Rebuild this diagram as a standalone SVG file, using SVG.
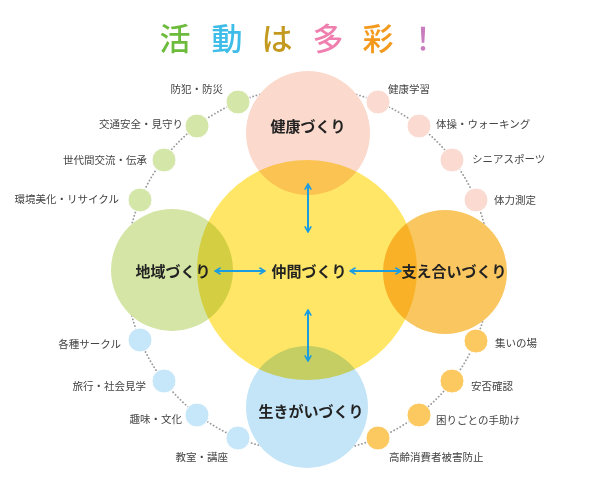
<svg xmlns="http://www.w3.org/2000/svg" width="600" height="484" viewBox="0 0 600 484">
<defs>
<style>
.ttl{font-family:"Noto Sans CJK JP","Noto Sans",sans-serif;font-size:31px;font-weight:500;text-anchor:middle;dominant-baseline:central}
.big{font-family:"Noto Sans CJK JP","Noto Sans",sans-serif;font-size:15px;font-weight:700;fill:#222;text-anchor:middle;dominant-baseline:central}
.sm{font-family:"Noto Sans CJK JP","Noto Sans",sans-serif;font-size:10.5px;fill:#444;dominant-baseline:central}
.r{text-anchor:end}
.under{fill:#fff}
.bc{mix-blend-mode:multiply}
.dot{fill:none;stroke:#999;stroke-width:1.8;stroke-dasharray:0.1 3.4;stroke-linecap:round}
.arr{stroke:#1a9ce0;stroke-width:2;fill:none;marker-start:url(#ah);marker-end:url(#ah)}
.g{fill:#d5e6a9}.p{fill:#fbdbd1}.b{fill:#c6e6f9}.o{fill:#fbc95f}
.sc{stroke:#fff;stroke-width:1}
</style>
<marker id="ah" viewBox="0 0 10 10" refX="9" refY="5" markerWidth="4" markerHeight="4" orient="auto-start-reverse" markerUnits="strokeWidth">
<path d="M2,1 L9,5 L2,9" fill="none" stroke="#1a9ce0" stroke-width="2"/>
</marker>
</defs>
<rect width="600" height="484" fill="#fff"/>
<g id="title">
<text class="ttl" x="175" y="36" fill="#6cbb3c">活</text>
<text class="ttl" x="227" y="36" fill="#3dbde8">動</text>
<text class="ttl" x="277" y="36" fill="#c39a1f">は</text>
<text class="ttl" x="328" y="36" fill="#ef7fae">多</text>
<text class="ttl" x="378" y="36" fill="#f39a1e">彩</text>
<text class="ttl" x="423" y="36" fill="#c77dc0">！</text>
</g>
<g id="ring">
<circle class="dot" cx="308" cy="270" r="182"/>
</g>
<g id="underlays">
<circle class="under" cx="308" cy="133" r="62"/>
<circle class="under" cx="172" cy="270" r="61"/>
<circle class="under" cx="445" cy="272" r="62"/>
<circle class="under" cx="307" cy="407" r="61"/>
<circle class="under" cx="307" cy="270" r="110"/>
</g>
<g id="center-node"><circle class="bc" cx="307" cy="270" r="110" fill="#ffe666"/></g>
<g id="health-node"><circle class="bc" cx="308" cy="133" r="62" fill="#fbd9cd"/></g>
<g id="region-node"><circle class="bc" cx="172" cy="270" r="61" fill="#d4e5a6"/></g>
<g id="support-node"><circle class="bc" cx="445" cy="272" r="62" fill="#f9c660"/></g>
<g id="purpose-node"><circle class="bc" cx="307" cy="407" r="61" fill="#c4e5f8"/></g>
<g id="big-labels">
<text class="big" x="308" y="125">健康づくり</text>
<text class="big" x="173" y="270">地域づくり</text>
<text class="big" x="309" y="270">仲間づくり</text>
<text class="big" x="454" y="270">支え合いづくり</text>
<text class="big" x="311" y="410">生きがいづくり</text>
</g>
<g id="connectors">
<line class="arr" x1="308" y1="184" x2="308" y2="232"/>
<line class="arr" x1="308" y1="310" x2="308" y2="361"/>
<line class="arr" x1="215" y1="271" x2="265" y2="271"/>
<line class="arr" x1="350" y1="271" x2="401" y2="271"/>
</g>
<g id="region-items">
<circle class="g sc" cx="238" cy="102" r="12"/><text class="sm r" x="223" y="88">防犯・防災</text>
<circle class="g sc" cx="197" cy="126" r="12"/><text class="sm r" x="183" y="123">交通安全・見守り</text>
<circle class="g sc" cx="164" cy="160" r="12"/><text class="sm r" x="147" y="159">世代間交流・伝承</text>
<circle class="g sc" cx="140" cy="200" r="12"/><text class="sm r" x="119" y="198">環境美化・リサイクル</text>
</g>
<g id="health-items">
<circle class="p sc" cx="378" cy="102" r="12"/><text class="sm" x="388" y="88">健康学習</text>
<circle class="p sc" cx="419" cy="126" r="12"/><text class="sm" x="436" y="123">体操・ウォーキング</text>
<circle class="p sc" cx="452" cy="160" r="12"/><text class="sm" x="472" y="158">シニアスポーツ</text>
<circle class="p sc" cx="476" cy="200" r="12"/><text class="sm" x="494" y="199">体力測定</text>
</g>
<g id="purpose-items">
<circle class="b sc" cx="140" cy="340" r="12"/><text class="sm r" x="121" y="343">各種サークル</text>
<circle class="b sc" cx="164" cy="381" r="12"/><text class="sm r" x="146" y="385">旅行・社会見学</text>
<circle class="b sc" cx="197" cy="415" r="12"/><text class="sm r" x="182" y="418">趣味・文化</text>
<circle class="b sc" cx="238" cy="438" r="12"/><text class="sm r" x="228" y="456">教室・講座</text>
</g>
<g id="support-items">
<circle class="o sc" cx="476" cy="341" r="12"/><text class="sm" x="495" y="342">集いの場</text>
<circle class="o sc" cx="452" cy="381" r="12"/><text class="sm" x="471" y="385">安否確認</text>
<circle class="o sc" cx="419" cy="415" r="12"/><text class="sm" x="436" y="419">困りごとの手助け</text>
<circle class="o sc" cx="378" cy="438" r="12"/><text class="sm" x="389" y="456">高齢消費者被害防止</text>
</g>
</svg>
